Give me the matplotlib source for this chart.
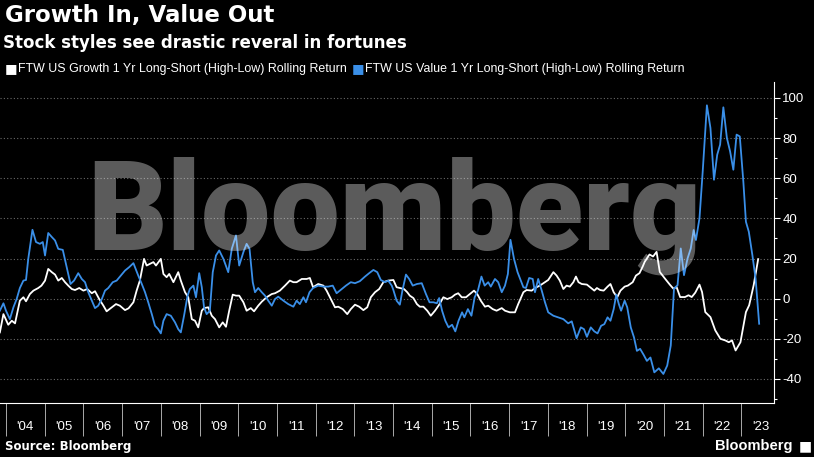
import numpy as np
import matplotlib.pyplot as plt
from matplotlib.ticker import FixedLocator, NullFormatter, FixedFormatter

plt.rcParams['axes.unicode_minus'] = False

# 数据: 以2004年1月为起点的月份, 以及对应的滚动收益(%)
growth_months = [-1.9, -0.8, 0.7, 1.8, 2.8, 4.3, 5.4, 6.2, 7.4, 8.5, 10, 11, 12.1, 13.1, 14.2, 15.2,
                 16.2, 17.3, 18.3, 19.3, 20.4, 21.4, 22.7, 24, 25.2, 26.6, 27.6, 28.9, 30.2, 31.2,
                 32.8, 34.1, 35.3, 36.9, 38, 39.5, 40.5, 41.5, 42.8, 43.6, 44.6, 45.7, 46.5, 48,
                 48.8, 49.8, 50.6, 51.9, 53.4, 54.2, 55.5, 56.5, 57.6, 58.6, 59.6, 60.7, 61.4, 62.7,
                 63.8, 64.8, 66.1, 67.2, 68.2, 69.2, 70.3, 71.3, 72.3, 73.6, 74.6, 75.9, 76.9, 78.2,
                 79.3, 80.8, 82.4, 83.4, 84.9, 86.5, 88, 89.1, 90.1, 91.7, 93.2, 94.2, 95.2, 96.8,
                 98.4, 99.4, 100.7, 102, 103, 104.4, 105.8, 106.9, 108.2, 109.5, 110.8, 112, 113.1,
                 114.4, 115.7, 117, 118.5, 120.1, 121.1, 122.1, 123.4, 124.4, 125.2, 126.3, 127.4,
                 128.3, 129.4, 130.6, 131.7, 133, 134.3, 135.6, 136.8, 138.2, 139.2, 140.2, 141.3,
                 142.6, 143.8, 145.1, 146.1, 147.2, 148.5, 149.5, 150.9, 152.1, 153.7, 154.7, 156.2,
                 157.8, 158.8, 160.4, 161.4, 163, 164, 165.5, 167.1, 168.1, 169.7, 170.7, 171.7,
                 172.8, 173.8, 174.8, 175.9, 176.7, 177.5, 178.5, 180.1, 181.1, 182.4, 183.2, 184.2,
                 185.3, 186.5, 187.4, 188.4, 189.5, 190.5, 191.8, 192.8, 194.3, 195.3, 196.4, 197.4,
                 198, 199.5, 200.6, 201.7, 202.7, 204.3, 205.8, 206.9, 207.9, 209, 210.5, 211.6,
                 212.6, 213.7, 215, 215.8, 216.8, 218.4, 219.9, 221.5, 223, 224.1, 225.1, 226.2,
                 227.7, 229.4, 230.4, 231.8, 233.2]
growth_vals = [-16.8, -7.7, -13, -11, -12.3, -1, 0.7, -1.3, 2.3, 4, 5.3, 6.5, 9, 14.8, 13.2, 12,
               9, 10.3, 8.2, 6.5, 4.8, 4.3, 5.3, 4, 4.8, 2.7, 3.7, -0.2, -3.5, -6.3,
               -4.3, -2.7, -3.5, -5.7, -4.8, -1.8, 4, 9, 19.8, 16.5, 17.3, 18.2, 16.5, 19.8,
               12.3, 10.7, 12.3, 8.2, 13.2, 9, 3.2, 0.7, -10.2, -11, -14.3, -6, -4.7, -4.3,
               -8.5, -10.2, -14.3, -11.8, -14, -6, 2, 1.5, 1.5, -1.8, -6, -4.7, -6.3, -3.5,
               -1.5, 0.7, 2.3, 2.7, 4, 6.5, 9, 8.2, 8.2, 9.8, 9.8, 10.3, 5.7, 7.3,
               6.5, 4, -0.2, -4.3, -4, -5.2, -7.7, -5.2, -3, -4, -5.7, -4.3, 0.7,
               3.2, 4.8, 8.2, 9, 9.3, 5.7, 5.3, 4.8, 3.2, 1.5, 0.3, -2.7,
               -4, -4, -6, -8.5, -6, -3, 0.7, -0.2, 0.7, 2, 2.7, 0.7,
               0.7, 2.3, 4, 2.3, -1, -4, -3.5, -5.2, -6, -4.7, -6, -6.8,
               -6.8, -2.7, 3.2, 4.3, 4, 5.3, 6.5, 8.2, 9.3, 13.2, 11.5, 9,
               4.8, 6.5, 6, 8.2, 11, 8.2, 7.3, 7, 5.7, 4, 5.3, 4.3,
               4, 6, 7.3, 3.2, 0.7, 4, 6, 6.5, 8.2, 11.5, 12.7, 16,
               18.3, 22, 21, 23.3, 13.3, 10, 7, 5, 5.8, 0.8, 0.8, 1.7,
               0.8, 3, 7, 3.3, -6.7, -9.2, -15.8, -20, -20.8, -21.7, -20.8, -25.8,
               -21.7, -6.7, -3.3, 6.7, 19.7]

value_months = [-1.9, -0.8, 0, 1.2, 2.3, 3.3, 4.3, 5.4, 6.2, 6.9, 8.2, 9.3, 10.5, 11.4, 12.1, 13.1,
                14.2, 15.2, 16.2, 17.6, 18.8, 20, 21.1, 22.4, 23.5, 24.5, 25.5, 26.6, 27.6, 28.6,
                29.7, 30.7, 31.7, 33.1, 34.3, 35.6, 36.9, 38.2, 39.5, 41, 42.1, 43.1, 44.1, 45.2,
                46.2, 47.2, 48, 48.8, 49.8, 51.1, 52.4, 53.4, 54.2, 55.2, 56.3, 57, 58.1, 58.9,
                59.9, 60.7, 61.4, 62.2, 63.2, 64.1, 65.1, 66.1, 67.4, 68.9, 70, 71.3, 72.3, 73.6,
                74.6, 75.5, 76.5, 77.2, 78.2, 79.3, 80.3, 81.3, 82.4, 83.4, 84.4, 86, 87.5, 89.1,
                90.1, 91.1, 92.2, 93, 94.1, 95.2, 96.8, 98.4, 99.9, 101.3, 102.5, 104.1, 105.4,
                106.9, 108.2, 109.7, 111.3, 112.6, 113.9, 115.1, 116.2, 117.5, 118.5, 119.6, 120.1,
                121.1, 122.1, 122.9, 124, 125, 126.1, 127.4, 128.9, 130.2, 131.3, 132.5, 133.6,
                134.3, 135.2, 136.2, 137.2, 138.3, 139.3, 140.3, 141.4, 142.1, 143.2, 144.3, 145.3,
                146.3, 147.4, 148.4, 149.5, 150.3, 151.6, 152.6, 153.7, 154.7, 155.6, 156.4, 157.5,
                158.6, 159.6, 160.4, 161.2, 162.2, 163.3, 164, 165, 166.1, 167.1, 168.1, 169.7,
                171.2, 172.8, 174.3, 175.4, 176.9, 178.2, 179.2, 180.1, 181.3, 182.4, 183.4, 184.5,
                185.5, 186.5, 187.4, 188.4, 189.2, 190, 190.7, 191.8, 192.6, 193.7, 194.7, 195.6,
                196.6, 197.7, 198.7, 199.8, 201, 202.4, 203.8, 205, 206.1, 207.1, 208.2, 209.2,
                210.2, 211.3, 212.3, 213.2, 213.9, 215, 216, 217.3, 218.4, 219.5, 220.5, 221.4,
                222.4, 223.5, 224.5, 225.5, 226.5, 227.5, 228.6, 229.4, 230.3, 231.4, 232.4, 233.5]
value_vals = [-6, -2.3, -6, -10.2, -4.3, -0.2, 5.3, 9, 9.3, 19.8, 34.3, 28.2, 27.3, 28.2, 21.5, 32.7,
              30.7, 29, 24.8, 24.3, 15.7, 7.3, 9, 12.7, 9.8, 8.2, 3.2, -1, -4.7, -3.5,
              -0.2, 4, 5.3, 8.2, 9, 11.5, 14, 15.7, 17.7, 11.5, 7.3, 3.2, -1.8, -7.7,
              -13.5, -15.2, -17.3, -11, -7.7, -8.5, -11.8, -15.2, -16.8, -8.5, 1.5, 4.8, 6.5, 0.7,
              12.7, 5.7, -4.3, -7.7, -6, 13.2, 21.5, 24, 19.8, 13.2, 24.8, 31.5, 16.5, 23.2,
              27.3, 24.8, 8.2, 3.2, 5.3, 3.2, 1.5, -1, -3.5, -0.2, 1, -1, -2.7, -4,
              -1, -2.7, 0.7, -1.8, 3.2, 5.3, 6.5, 6, 6, 6.5, 2.7, 4.8, 6.5,
              8.2, 7.7, 8.7, 11, 12.7, 14.3, 13.2, 9.3, 8.2, 9, 6.5, 4.3,
              -1, -3, 4, 12, 9.8, 6.5, 7.3, 7.7, 2.3, -1.8, -1.8, -2.3,
              0.3, -6, -11, -14.3, -13, -16.3, -11, -6.8, -9.3, -5.2, -8.5, 0.7,
              4, 11, 6.5, 8.2, 6, 9.8, 8.2, 3.2, 6.5, 12.3, 29.3, 19.8,
              13.2, 9, 5.7, 5.3, 10.3, 9.8, 3.2, 9.8, 4, -1.8, -6.8, -8.5,
              -9.3, -10.2, -12.3, -11.3, -19.7, -14.3, -15.2, -19, -14.3, -16.3, -17.3, -13.5,
              -12.7, -9.3, -11, -5.2, 2, -2.7, -6, -1, -4.3, -14.3, -19.3, -26,
              -25, -28, -31, -29.3, -36.7, -34.7, -37.5, -33.3, -23.3, 5, 6.7, 25,
              11.7, 20, 25, 34.2, 29.2, 40, 63.3, 96.3, 85, 59.2, 71.7, 76.7,
              95.3, 80, 73.3, 64.2, 81.7, 80.8, 58.3, 38.3, 33.3, 21.7, 10, -12.5]

years = list(range(2004, 2024))
year_labels = ["'%02d" % (y % 100) for y in years]
y_ticks = [-40, -20, 0, 20, 40, 60, 80, 100]

growth_t = 2004 + np.array(growth_months) / 12
value_t = 2004 + np.array(value_months) / 12

fig = plt.figure(figsize=(8.14, 4.57), dpi=100, facecolor='black')
ax = fig.add_axes([0.0, 0.118, 0.951, 0.703])
ax.set_facecolor('black')

ax.plot(growth_t, growth_vals, color='white', lw=1.3, zorder=3)
ax.plot(value_t, value_vals, color='#3a8fe8', lw=1.3, zorder=3)

ax.set_xlim(2003.845, 2023.845)
ax.set_ylim(-52, 108)

# 右侧y轴
ax.yaxis.tick_right()
ax.set_yticks(y_ticks)
ax.set_yticklabels([str(v) for v in y_ticks])
ax.yaxis.set_minor_locator(FixedLocator([v + 10 for v in y_ticks[:-1]] + [-50]))
ax.tick_params(axis='y', which='major', colors='white', labelsize=9.5, length=4, width=0.8, pad=2)
ax.tick_params(axis='y', which='minor', colors='white', length=2.5, width=0.8)
for lab in ax.get_yticklabels():
    lab.set_family('Liberation Sans')

# x轴: 年份分隔刻度 + 年中标签
ax.xaxis.set_major_locator(FixedLocator(years))
ax.xaxis.set_major_formatter(NullFormatter())
ax.xaxis.set_minor_locator(FixedLocator([y + 0.5 for y in years]))
ax.xaxis.set_minor_formatter(FixedFormatter(year_labels))
ax.tick_params(axis='x', which='major', colors='#aaaaaa', length=24, width=0.7)
ax.tick_params(axis='x', which='minor', colors='white', length=0, labelsize=9.5, pad=13)
for lab in ax.get_xticklabels(minor=True):
    lab.set_family('Liberation Sans')

ax.grid(axis='y', which='major', color='#6a6a6a', linestyle=(0, (1, 2)), linewidth=0.8)
for s in ['top', 'left']:
    ax.spines[s].set_visible(False)
for s in ['right', 'bottom']:
    ax.spines[s].set_color('white')
    ax.spines[s].set_linewidth(0.8)

# 水印
fig.text(0.484, 0.455, 'Bloomberg', color='white', alpha=0.36, fontsize=89,
         fontweight=900, family=['Roboto', 'Liberation Sans'], ha='center', va='baseline', zorder=10)

# 标题与图例
fig.text(0.006, 0.965, 'Growth In, Value Out', color='white', fontsize=16.5,
         fontweight='bold', va='center', ha='left')
fig.text(0.004, 0.906, 'Stock styles see drastic reveral in fortunes', color='white',
         fontsize=12, fontweight='bold', va='center', ha='left')
fig.text(0.014, 0.849, '\u25a0', color='white', fontsize=9.5, va='center', ha='center')
fig.text(0.022, 0.849, 'FTW US Growth 1 Yr Long-Short (High-Low) Rolling Return', color='white',
         fontsize=8.95, family='Liberation Sans', va='center', ha='left')
fig.text(0.440, 0.849, '\u25a0', color='#3a8fe8', fontsize=9.5, va='center', ha='center')
fig.text(0.449, 0.849, 'FTW US Value 1 Yr Long-Short (High-Low) Rolling Return', color='white',
         fontsize=8.95, family='Liberation Sans', va='center', ha='left')

fig.text(0.006, 0.022, 'Source: Bloomberg', color='white', fontsize=8.5, fontweight='bold',
         va='center', ha='left')
fig.text(0.974, 0.024, 'Bloomberg', color='white', fontsize=10.5, fontweight='bold',
         family='Liberation Sans', va='center', ha='right')
fig.text(0.989, 0.024, '\u25a0', color='white', fontsize=10, va='center', ha='center')

fig.savefig('out.png', dpi=100, facecolor='black')
